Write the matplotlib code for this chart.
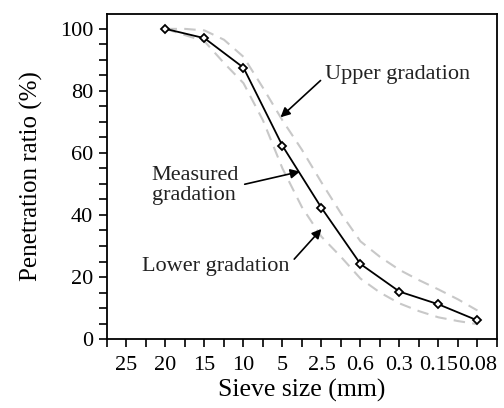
import matplotlib
matplotlib.use("Agg")
import matplotlib.pyplot as plt
import numpy as np

plt.rcParams['font.family'] = ['Liberation Serif', 'DejaVu Serif']

sieve_labels = ["25", "20", "15", "10", "5", "2.5", "0.6", "0.3", "0.15", "0.08"]

# measured gradation: positions (index of sieve) and passing ratio
measured_pos = [1, 2, 3, 4, 5, 6, 7, 8, 9]
measured_val = [100, 97, 87.5, 62.3, 42.3, 24.2, 15.3, 11.2, 6.0]

# upper / lower gradation envelopes read at half-sieve positions
env_pos = [1, 1.5, 2, 2.5, 3, 3.5, 4, 4.5, 5, 5.5, 6, 6.5, 7, 7.5, 8, 8.5, 9]
upper_val = [100, 100, 99.5, 96.5, 91, 81, 70.5, 61, 50.5, 40.5, 31.5, 26.5, 22.3, 19, 16, 12.8, 9.2]
lower_val = [100, 98, 96, 89, 82.5, 70.5, 55, 42.5, 33, 26.5, 19.5, 15, 11.5, 9, 7, 5.8, 4.8]

fig = plt.figure(figsize=(5.04, 4.08), dpi=100)
ax = fig.add_axes([0.2123, 0.169, 0.7737, 0.7967])

gray = '#c8c8c8'
ax.plot(env_pos, upper_val, color=gray, lw=1.5, ls=(0, (5.5, 3.5)))
ax.plot(env_pos, lower_val, color=gray, lw=1.5, ls=(0, (5.5, 3.5)))
ax.plot(measured_pos, measured_val, color='black', lw=1.3, marker='D', ms=4.5,
        mfc='white', mec='black', mew=1.3)

ax.set_xlim(-0.5, 9.5)
ax.set_ylim(0, 104.8)
ax.set_xticks(np.arange(-0.5, 9.51, 0.5))
ax.set_xticklabels([""] + sum([[l, ""] for l in sieve_labels], []))
ax.set_yticks(np.arange(0, 101, 5))
ax.set_yticklabels([str(v) if v % 20 == 0 else "" for v in range(0, 101, 5)])
ax.tick_params(direction='out', length=6, width=1.2, labelsize=16, colors='black')
ax.tick_params(axis='x', pad=6)
ax.tick_params(axis='y', pad=4)
for s in ax.spines.values():
    s.set_linewidth(1.3)

ax.set_xlabel("Sieve size (mm)", fontsize=18.5, labelpad=3)
ax.set_ylabel("Penetration ratio (%)", fontsize=18, labelpad=12)

def akw(rel):
    return dict(arrowprops=dict(arrowstyle='-|>', color='black', lw=1.2, mutation_scale=14,
                                relpos=rel, shrinkA=2, shrinkB=0),
                fontsize=16, color='#222222', xycoords='data', textcoords='data')

ax.annotate("Upper gradation", xy=(3.95, 71.5), xytext=(5.1, 85.4), ha='left', va='center',
            **akw((0.0, 0.4)))
ax.annotate("Measured\ngradation", xy=(4.45, 54), xytext=(0.65, 49.5), ha='left', va='center',
            linespacing=1.05, **akw((1.0, 0.5)))
ax.annotate("Lower gradation", xy=(5.0, 35.5), xytext=(0.4, 23.5), ha='left', va='center',
            **akw((1.0, 0.6)))

fig.savefig("out.png", dpi=100)
